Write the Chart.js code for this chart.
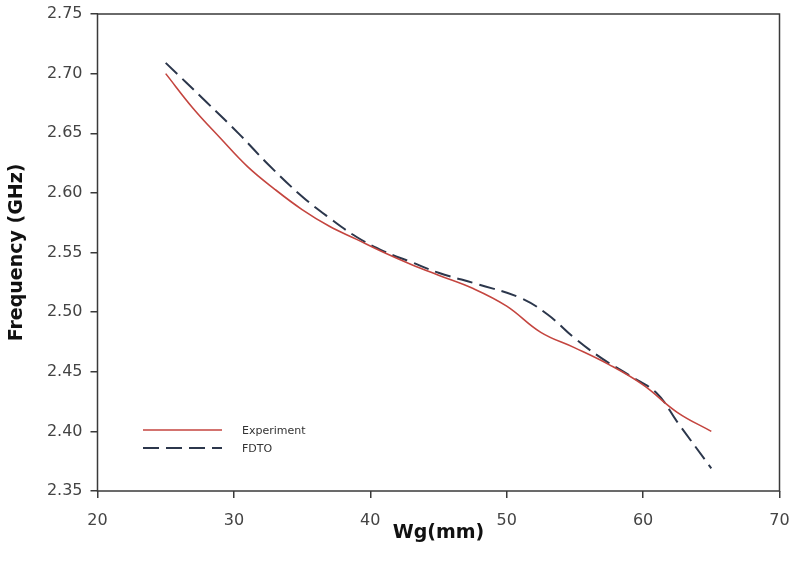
<!DOCTYPE html>
<html>
<head>
<meta charset="utf-8">
<title>Frequency vs Wg</title>
<script src="https://cdn.jsdelivr.net/npm/chart.js@4.4.1/dist/chart.umd.min.js"></script>
<style>
  html, body { margin: 0; padding: 0; background: #fff; }
  #wrap { width: 790px; height: 575px; position: relative; }
</style>
</head>
<body>
<div id="wrap"><canvas id="freqChart"></canvas></div>
<script>
  // ---- data ----
  const expWg = [25, 27, 29, 31, 33, 35, 37, 39, 41, 43, 45, 47.5, 50, 52.5, 55, 57.5, 60, 62.5, 65];
  const expFreq = [2.700, 2.671, 2.646, 2.622, 2.603, 2.586, 2.572, 2.561, 2.550, 2.540, 2.531, 2.520, 2.505, 2.483, 2.470, 2.456, 2.439, 2.416, 2.400];
  const fdtoWg = [25, 28, 30.5, 32.5, 35, 37, 39, 41, 43, 45, 48, 51, 53, 55, 57, 59, 61, 62.5, 65];
  const fdtoFreq = [2.709, 2.676, 2.648, 2.624, 2.597, 2.579, 2.563, 2.551, 2.542, 2.533, 2.523, 2.512, 2.498, 2.478, 2.461, 2.447, 2.432, 2.408, 2.369];
  const xTickValues = [20, 30, 40, 50, 60, 70];
  const yTickValues = [2.35, 2.40, 2.45, 2.50, 2.55, 2.60, 2.65, 2.70, 2.75];

  const FONT = "'DejaVu Sans', Verdana, sans-serif";
  const AXIS_COLOR = '#3a3a3a';

  function toPoints(xs, ys) {
    return xs.map((x, i) => ({ x: x, y: ys[i] }));
  }

  // box around the plot area
  const frame = {
    id: 'frame',
    afterDraw(chart) {
      const { ctx, chartArea: a } = chart;
      ctx.save();
      ctx.strokeStyle = AXIS_COLOR;
      ctx.lineWidth = 1.5;
      ctx.strokeRect(a.left, a.top, a.right - a.left, a.bottom - a.top);
      ctx.restore();
    }
  };

  // small legend in the lower left corner of the plot
  const innerLegend = {
    id: 'innerLegend',
    afterDatasetsDraw(chart) {
      const ctx = chart.ctx;
      const x0 = 143, x1 = 222, textX = 242;
      let y = 430;
      ctx.save();
      chart.data.datasets.forEach(ds => {
        ctx.strokeStyle = ds.borderColor;
        ctx.lineWidth = ds.borderWidth;
        ctx.setLineDash(ds.borderDash || []);
        ctx.beginPath();
        ctx.moveTo(x0, y);
        ctx.lineTo(x1, y);
        ctx.stroke();
        ctx.setLineDash([]);
        ctx.fillStyle = '#333';
        ctx.font = '11px ' + FONT;
        ctx.textBaseline = 'middle';
        ctx.fillText(ds.label, textX, y + 1);
        y += 18;
      });
      ctx.restore();
    }
  };

  const ctx = document.getElementById('freqChart').getContext('2d');
  new Chart(ctx, {
    type: 'line',
    data: {
      datasets: [
        {
          label: 'Experiment',
          data: toPoints(expWg, expFreq),
          borderColor: '#c4453f',
          borderWidth: 1.6,
          pointRadius: 0,
          tension: 0.4,
          fill: false
        },
        {
          label: 'FDTO',
          data: toPoints(fdtoWg, fdtoFreq),
          borderColor: '#2c374c',
          borderWidth: 2,
          borderDash: [16, 7],
          pointRadius: 0,
          tension: 0.4,
          fill: false
        }
      ]
    },
    options: {
      responsive: true,
      maintainAspectRatio: false,
      animation: false,
      layout: { padding: { top: 14, right: 10.5, left: 0, bottom: 0 } },
      plugins: {
        legend: { display: false },
        tooltip: { enabled: false }
      },
      scales: {
        x: {
          type: 'linear',
          min: 20,
          max: 70,
          afterBuildTicks: scale => { scale.ticks = xTickValues.map(v => ({ value: v })); },
          afterFit: scale => {
            scale.height = 84;
            // the end labels may hang past the frame
            scale.paddingLeft = 0;
            scale.paddingRight = 0;
          },
          grid: { drawOnChartArea: false, drawTicks: true, tickLength: 7, color: AXIS_COLOR, lineWidth: 1.5 },
          border: { display: false },
          ticks: { color: '#444', font: { family: FONT, size: 16 }, padding: 13, maxRotation: 0 },
          title: {
            display: true,
            text: 'Wg(mm)',
            color: '#111',
            font: { family: FONT, size: 19, weight: 'bold' },
            padding: { top: 0, bottom: 31 }
          }
        },
        y: {
          type: 'linear',
          min: 2.35,
          max: 2.75,
          afterBuildTicks: scale => { scale.ticks = yTickValues.map(v => ({ value: v })); },
          afterFit: scale => {
            scale.width = 97.5;
            scale.paddingTop = 0;
            scale.paddingBottom = 0;
          },
          grid: { drawOnChartArea: false, drawTicks: true, tickLength: 7, color: AXIS_COLOR, lineWidth: 1.5 },
          border: { display: false },
          ticks: {
            color: '#444',
            font: { family: FONT, size: 16 },
            padding: 8,
            callback: v => Number(v).toFixed(2)
          },
          title: {
            display: true,
            text: 'Frequency (GHz)',
            color: '#111',
            font: { family: FONT, size: 19, weight: 'bold' },
            padding: { top: 6, bottom: 0 }
          }
        }
      }
    },
    plugins: [frame, innerLegend]
  });
</script>
</body>
</html>
